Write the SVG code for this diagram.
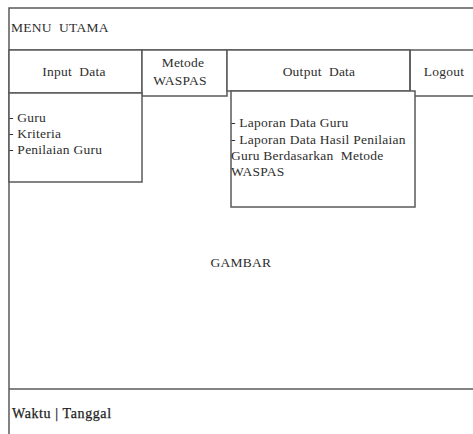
<svg xmlns="http://www.w3.org/2000/svg" width="473" height="434" viewBox="0 0 473 434">
  <style>
    .ln { fill: none; stroke: #5a5a5a; stroke-width: 1.5; }
    .box { fill: #ffffff; stroke: #5a5a5a; stroke-width: 1.5; }
    text { font-family: "Liberation Serif", "Times New Roman", serif; font-size: 13.5px; fill: #2e2e2e; letter-spacing: 0.25px; }
    .c { text-anchor: middle; }
    .ft { font-size: 14px; letter-spacing: 0.6px; fill: #222222; stroke: #222222; stroke-width: 0.25; }
  </style>
  <rect width="473" height="434" fill="#ffffff"/>

  <!-- page frame -->
  <g id="frame">
    <path class="ln" d="M9,434 V8 H473"/>
    <path class="ln" d="M9,50 H473"/>
    <path class="ln" d="M9,389 H473"/>
  </g>

  <g id="title">
    <text x="11" y="32" xml:space="preserve">MENU  UTAMA</text>
  </g>

  <!-- menu bar -->
  <g id="menu-input">
    <rect class="box" x="9" y="50" width="133" height="43"/>
    <text class="c" x="74" y="76" xml:space="preserve">Input  Data</text>
  </g>
  <g id="menu-metode">
    <rect class="box" x="142" y="50" width="85" height="46"/>
    <text class="c" x="183" y="67">Metode</text>
    <text class="c" x="180" y="85">WASPAS</text>
  </g>
  <g id="menu-output">
    <rect class="box" x="227" y="50" width="183" height="41"/>
    <text class="c" x="319" y="76" xml:space="preserve">Output  Data</text>
  </g>
  <g id="menu-logout">
    <path class="ln" d="M410,50 V96 H473"/>
    <text class="c" x="444" y="76">Logout</text>
  </g>

  <!-- dropdown lists -->
  <g id="dropdown-input">
    <rect class="box" x="9" y="93" width="133" height="89"/>
    <text x="9" y="122">- Guru</text>
    <text x="9" y="138">- Kriteria</text>
    <text x="9" y="154">- Penilaian Guru</text>
  </g>
  <g id="dropdown-output">
    <rect class="box" x="231" y="91" width="184" height="116"/>
    <text x="231" y="127">- Laporan Data Guru</text>
    <text x="231" y="143.5">- Laporan Data Hasil Penilaian</text>
    <text x="231" y="160" xml:space="preserve">Guru Berdasarkan  Metode</text>
    <text x="231" y="176">WASPAS</text>
  </g>

  <g id="content">
    <text class="c" x="241" y="267">GAMBAR</text>
  </g>

  <g id="footer">
    <text class="ft" x="12" y="418">Waktu | Tanggal</text>
  </g>
</svg>
